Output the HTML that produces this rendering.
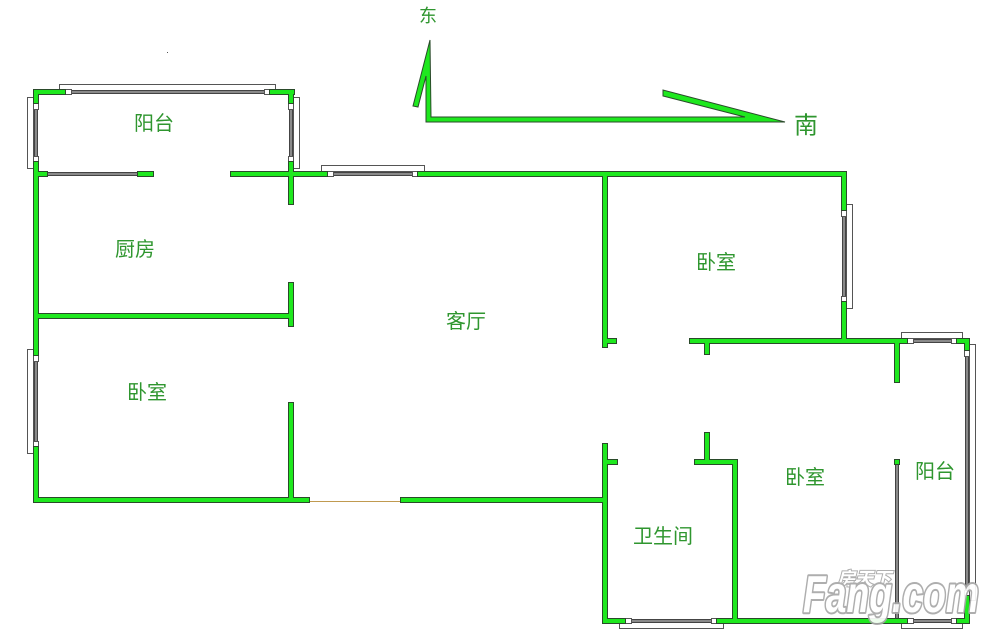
<!DOCTYPE html>
<html>
<head>
<meta charset="utf-8">
<style>
  html,body{margin:0;padding:0;background:#fff;}
  svg{display:block;}
  .lbl{font-family:"Liberation Sans","Noto Sans CJK SC",sans-serif;fill:#2f962f;text-anchor:middle;dominant-baseline:central;}
  .wm{font-family:"Liberation Sans","Noto Sans CJK SC",sans-serif;font-weight:bold;font-style:italic;}
</style>
</head>
<body>
<svg width="1000" height="637" viewBox="0 0 1000 637" xmlns="http://www.w3.org/2000/svg">
  <defs>
    <g id="walls">
      <!-- top balcony -->
      <rect x="34" y="90" width="31" height="4"/>
      <rect x="34" y="90" width="4" height="13"/>
      <rect x="270" y="90" width="24" height="4"/>
      <rect x="289" y="90" width="4" height="13"/>
      <rect x="34" y="162" width="4" height="193"/>
      <rect x="289" y="162" width="4" height="42"/>
      <!-- balcony/kitchen wall -->
      <rect x="34" y="172" width="13" height="4"/>
      <rect x="138" y="172" width="15" height="4"/>
      <rect x="231" y="172" width="96" height="4"/>
      <rect x="418" y="172" width="428" height="4"/>
      <!-- kitchen / bedroom -->
      <rect x="34" y="314" width="258" height="4"/>
      <rect x="289" y="283" width="4" height="43"/>
      <rect x="34" y="447" width="4" height="55"/>
      <rect x="289" y="403" width="4" height="98"/>
      <rect x="34" y="498" width="275" height="4"/>
      <rect x="401" y="498" width="206" height="4"/>
      <!-- living room right divider -->
      <rect x="603" y="172" width="4" height="175"/>
      <rect x="603" y="339" width="13" height="4"/>
      <!-- right bedroom -->
      <rect x="842" y="172" width="4" height="38"/>
      <rect x="842" y="302" width="4" height="41"/>
      <rect x="690" y="339" width="217" height="4"/>
      <rect x="957" y="339" width="12" height="4"/>
      <rect x="705" y="339" width="4" height="15"/>
      <rect x="895" y="339" width="4" height="43"/>
      <rect x="965" y="339" width="4" height="11"/>
      <rect x="965" y="596" width="4" height="26"/>
      <!-- bathroom -->
      <rect x="603" y="444" width="4" height="178"/>
      <rect x="603" y="460" width="14" height="4"/>
      <rect x="695" y="460" width="41" height="4"/>
      <rect x="705" y="433" width="4" height="30"/>
      <rect x="733" y="460" width="4" height="162"/>
      <!-- bottom -->
      <rect x="603" y="619" width="22" height="4"/>
      <rect x="717" y="619" width="190" height="4"/>
      <rect x="957" y="619" width="12" height="4"/>
      <!-- balcony inner cap -->
      <rect x="895" y="460" width="4" height="4"/>
    </g>
    <polygon id="compass" points="430,40 431,117 745,117 663,96 663,90 785,122 426,122 426,76 418,107 413,106"/>
  </defs>

  <!-- window outline rects (outside) -->
  <g fill="#fff" stroke="#555" stroke-width="1">
    <rect x="59.5" y="84.5" width="216" height="6"/>
    <rect x="27.5" y="97.5" width="6" height="71"/>
    <rect x="293.5" y="97.5" width="6" height="71"/>
    <rect x="321.5" y="165.5" width="103" height="6"/>
    <rect x="27.5" y="349.5" width="6" height="104"/>
    <rect x="846.5" y="204.5" width="6" height="104"/>
    <rect x="901.5" y="332.5" width="61" height="6"/>
    <rect x="969.5" y="344.5" width="6" height="256"/>
    <rect x="619.5" y="622.5" width="104" height="6"/>
    <rect x="901.5" y="622.5" width="61" height="6"/>
  </g>

  <!-- window gray bars -->
  <g fill="#8a8a8a" stroke="#444" stroke-width="1">
    <rect x="65.5" y="90.5" width="205" height="3"/>
    <rect x="34.5" y="103.5" width="3" height="59"/>
    <rect x="289.5" y="103.5" width="3" height="59"/>
    <rect x="46.5" y="172.5" width="92" height="3"/>
    <rect x="327.5" y="172.5" width="91" height="3"/>
    <rect x="34.5" y="355.5" width="3" height="92"/>
    <rect x="842.5" y="210.5" width="3" height="92"/>
    <rect x="907.5" y="339.5" width="50" height="3"/>
    <rect x="965.5" y="350.5" width="3" height="246"/>
    <rect x="625.5" y="619.5" width="92" height="3"/>
    <rect x="907.5" y="619.5" width="50" height="3"/>
    <rect x="895.5" y="463.5" width="3" height="157"/>
  </g>
  <!-- window end squares -->
  <g fill="#fff" stroke="#555" stroke-width="1">
    <rect x="65.5" y="89.5" width="6" height="5"/>
    <rect x="264.5" y="89.5" width="6" height="5"/>
    <rect x="33.5" y="103.5" width="5" height="6"/>
    <rect x="33.5" y="156.5" width="5" height="6"/>
    <rect x="288.5" y="103.5" width="5" height="6"/>
    <rect x="288.5" y="156.5" width="5" height="6"/>
    <rect x="327.5" y="171.5" width="6" height="5"/>
    <rect x="412.5" y="171.5" width="6" height="5"/>
    <rect x="33.5" y="355.5" width="5" height="6"/>
    <rect x="33.5" y="441.5" width="5" height="6"/>
    <rect x="841.5" y="210.5" width="5" height="6"/>
    <rect x="841.5" y="296.5" width="5" height="6"/>
    <rect x="907.5" y="338.5" width="6" height="5"/>
    <rect x="951.5" y="338.5" width="6" height="5"/>
    <rect x="964.5" y="350.5" width="5" height="6"/>
    <rect x="964.5" y="590.5" width="5" height="6"/>
    <rect x="625.5" y="618.5" width="6" height="5"/>
    <rect x="711.5" y="618.5" width="6" height="5"/>
    <rect x="907.5" y="618.5" width="6" height="5"/>
    <rect x="951.5" y="618.5" width="6" height="5"/>
  </g>

  <!-- door line -->
  <line x1="309" y1="501.5" x2="401" y2="501.5" stroke="#c09a50" stroke-width="1"/>

  <!-- walls: outline then fill -->
  <use href="#walls" fill="#2a4a2a" stroke="#2a4a2a" stroke-width="2"/>
  <use href="#walls" fill="#1ee81e"/>

  <!-- compass -->
  <use href="#compass" fill="#1ee81e" stroke="#2a4a2a" stroke-width="1"/>

  <!-- tiny dot -->
  <rect x="167" y="52" width="1" height="1" fill="#555"/>

  <!-- labels -->
  <text class="lbl" x="428" y="16" font-size="18">东</text>
  <text class="lbl" x="806" y="126" font-size="24">南</text>
  <text class="lbl" x="154" y="124" font-size="20">阳台</text>
  <text class="lbl" x="135" y="250" font-size="20">厨房</text>
  <text class="lbl" x="466" y="322" font-size="20">客厅</text>
  <text class="lbl" x="716" y="263" font-size="20">卧室</text>
  <text class="lbl" x="147" y="393" font-size="20">卧室</text>
  <text class="lbl" x="805" y="478" font-size="20">卧室</text>
  <text class="lbl" x="935" y="472" font-size="20">阳台</text>
  <text class="lbl" x="663" y="537" font-size="20">卫生间</text>

  <!-- watermark -->
  <g opacity="0.92">
    <text class="wm" x="837" y="585" font-size="18" fill="#fff" stroke="#a8a8a8" stroke-width="2" paint-order="stroke" textLength="54" lengthAdjust="spacingAndGlyphs">房天下</text>
    <text class="wm" x="803" y="612" font-size="52" fill="#fff" stroke="#a8a8a8" stroke-width="4" paint-order="stroke" stroke-linejoin="round" textLength="176" lengthAdjust="spacingAndGlyphs">Fang.com</text>
  </g>
</svg>
</body>
</html>
